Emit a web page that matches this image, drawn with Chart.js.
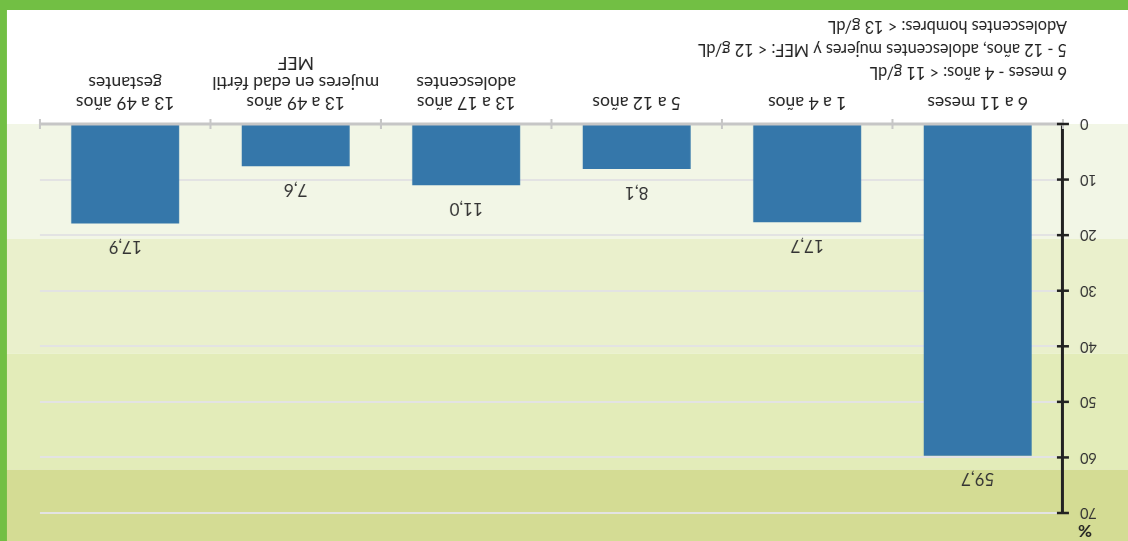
<!DOCTYPE html>
<html>
<head>
<meta charset="utf-8">
<script src="https://cdn.jsdelivr.net/npm/chart.js@4"></script>
<style>
  html, body { margin: 0; padding: 0; background: #fff; }
  #wrap { width: 1128px; height: 541px; transform: rotate(180deg); }
</style>
</head>
<body>
<div id="wrap"><canvas id="anemia" width="1128" height="541"></canvas></div>
<script>
/* global Chart */
const categories = [
    ["6 a 11 meses"],
    ["1 a 4 años"],
    ["5 a 12 años"],
    ["13 a 17 años", "adolescentes"],
    ["13 a 49 años", "mujeres en edad fértil", "MEF"],
    ["13 a 49 años", "gestantes"],
];
const values = [59.7, 17.7, 8.1, 11.0, 7.6, 17.9];
const yMin = 0;
const yMax = 70;
const yStep = 10;
const bandLimits = [0, 20.7, 41.3, 62.2];
const bandColors = ["#f2f6e6", "#eaf0cc", "#e3ecb9", "#d4dc94"];
const notes = [
    "6 meses - 4 años: < 11 g/dL",
    "5 - 12 años, adolescentes mujeres y MEF: < 12 g/dL",
    "Adolescentes hombres: < 13 g/dL",
];

const FONT = "Lato, 'Open Sans', sans-serif";

const decor = {
    id: "decor",
    beforeDraw(chart) {
        const ctx = chart.ctx;
        const y = chart.scales.y;
        ctx.save();
        ctx.fillStyle = "#fff";
        ctx.fillRect(0, 0, chart.width, chart.height);
        // background bands
        for (let i = 0; i < bandLimits.length; i++) {
            const top = i + 1 < bandLimits.length ? y.getPixelForValue(bandLimits[i + 1]) : 0;
            const bottom = y.getPixelForValue(bandLimits[i]);
            ctx.fillStyle = bandColors[i];
            ctx.fillRect(0, top, chart.width, bottom - top);
        }
        ctx.restore();
    },
    afterDatasetsDraw(chart) {
        const ctx = chart.ctx;
        ctx.save();
        ctx.font = "17px " + FONT;
        ctx.fillStyle = "#333";
        ctx.textAlign = "center";
        ctx.textBaseline = "middle";
        chart.getDatasetMeta(0).data.forEach((bar, i) => {
            ctx.fillText(values[i].toFixed(1).replace(".", ","), bar.x, bar.y - 23);
        });
        ctx.restore();
    },
    afterDraw(chart) {
        const ctx = chart.ctx;
        const area = chart.chartArea;
        const x = chart.scales.x;
        const y = chart.scales.y;
        const zero = y.getPixelForValue(0);
        ctx.save();
        // x axis line with category ticks
        ctx.strokeStyle = "#c6c6c6";
        ctx.lineWidth = 3;
        ctx.beginPath();
        ctx.moveTo(area.left, zero);
        ctx.lineTo(area.right, zero);
        ctx.stroke();
        ctx.lineWidth = 2;
        const n = categories.length;
        for (let i = 0; i <= n; i++) {
            let px;
            if (i === 0) px = area.left;
            else if (i === n) px = area.right;
            else px = (x.getPixelForValue(i - 1) + x.getPixelForValue(i)) / 2;
            ctx.beginPath();
            ctx.moveTo(px, zero - 5);
            ctx.lineTo(px, zero + 5);
            ctx.stroke();
        }
        // y axis ticks crossing the axis
        ctx.strokeStyle = "#222";
        ctx.lineWidth = 2.5;
        for (let v = yMin; v <= yMax; v += yStep) {
            const py = y.getPixelForValue(v);
            ctx.beginPath();
            ctx.moveTo(area.left - 6, py);
            ctx.lineTo(area.left + 6, py);
            ctx.stroke();
        }
        // unit
        ctx.fillStyle = "#222";
        ctx.font = "bold 17px " + FONT;
        ctx.textAlign = "center";
        ctx.textBaseline = "middle";
        ctx.fillText("%", area.left - 22, 11);
        // notes
        ctx.font = "16.3px " + FONT;
        ctx.fillStyle = "#222";
        ctx.textAlign = "left";
        notes.forEach((t, i) => {
            ctx.fillText(t, 61, 469 + i * 23);
        });
        // green frame
        ctx.fillStyle = "#72bf44";
        ctx.fillRect(0, chart.height - 10, chart.width, 10);
        ctx.fillRect(chart.width - 7, 0, 7, chart.height);
        ctx.restore();
    },
};

new Chart(document.getElementById("anemia").getContext("2d"), {
    type: "bar",
    data: {
        labels: categories,
        datasets: [
            {
                data: values,
                backgroundColor: "#3577aa",
                borderWidth: 0,
                barPercentage: 0.633,
                categoryPercentage: 1,
            },
        ],
    },
    options: {
        responsive: false,
        animation: false,
        layout: { padding: { top: 28, right: 40, left: 0, bottom: 0 } },
        plugins: {
            legend: { display: false },
            tooltip: { enabled: false },
        },
        scales: {
            x: {
                afterFit(scale) {
                    scale.height = 124;
                },
                border: { display: false },
                grid: { display: false },
                ticks: {
                    color: "#222",
                    padding: 4,
                    maxRotation: 0,
                    autoSkip: false,
                    font: { family: FONT, size: 17.5, lineHeight: 1.12 },
                },
            },
            y: {
                min: yMin,
                max: yMax,
                afterFit(scale) {
                    scale.width = 65;
                },
                border: { display: true, color: "#222", width: 3 },
                grid: { color: "#e3e3e3", lineWidth: 2, drawTicks: false },
                ticks: {
                    stepSize: yStep,
                    color: "#333",
                    padding: 17,
                    font: { family: FONT, size: 14.5 },
                },
            },
        },
    },
    plugins: [decor],
});
</script>
</body>
</html>
